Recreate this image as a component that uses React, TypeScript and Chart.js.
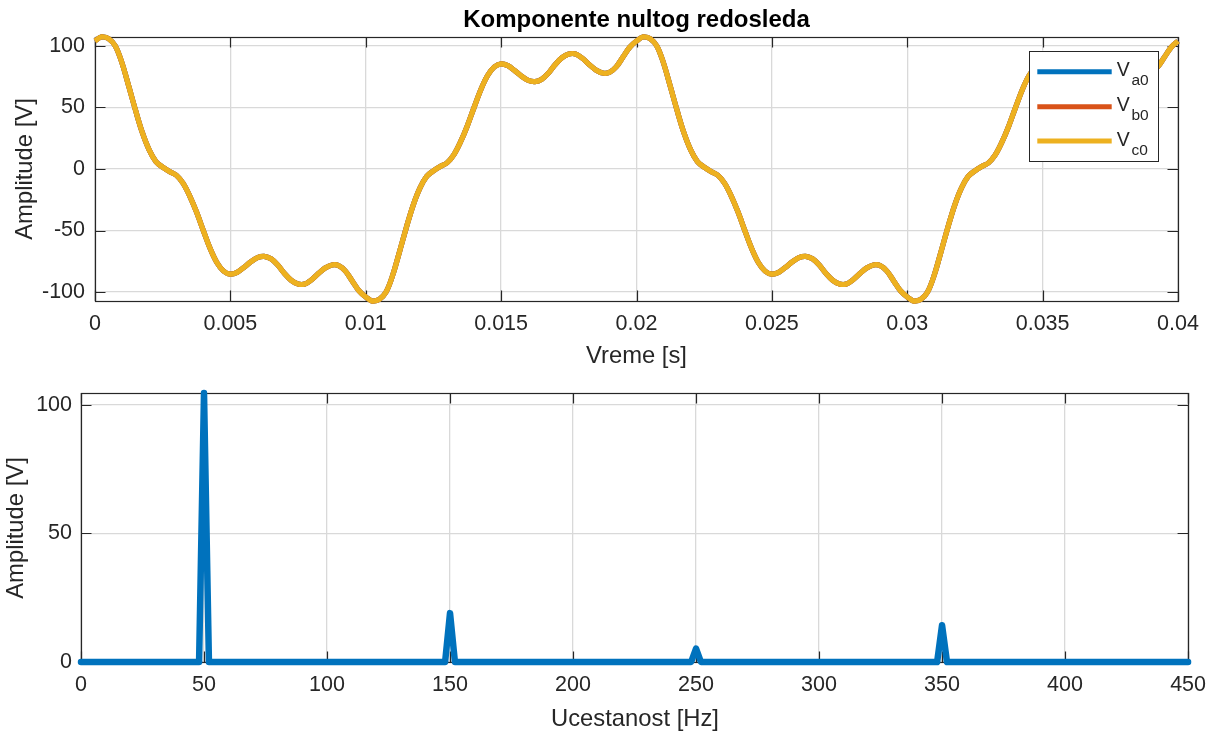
import React, { useEffect, useRef } from 'react';
import { Chart, registerables } from 'chart.js';

Chart.register(...registerables);

const FONT = '"Liberation Sans", Arial, Helvetica, sans-serif';
const INK = '#262626';
const GRID = '#d9d9d9';

// Zero-sequence voltage (V), one sample every 0.25 ms over 0 .. 40 ms
const sampleStepS = 0.00025;
const zeroSeqV = [
  104, 107.5, 106, 100, 86, 67, 47.5, 29.5, 15.5, 6, 1.5, -2, -5, -11.5, -22, -35, -50, -64.5, -76, -83,
  -85.5, -84, -80, -75.5, -72, -71, -73, -78, -85, -90.5, -93.5, -93.5, -90, -85, -80.5, -78, -78.5, -83, -91, -99, -104,
  -107.5, -106, -100, -86, -67, -47.5, -29.5, -15.5, -6, -1.5, 2, 5, 11.5, 22, 35, 50, 64.5, 76, 83,
  85.5, 84, 80, 75.5, 72, 71, 73, 78, 85, 90.5, 93.5, 93.5, 90, 85, 80.5, 78, 78.5, 83, 91, 99, 104,
  107.5, 106, 100, 86, 67, 47.5, 29.5, 15.5, 6, 1.5, -2, -5, -11.5, -22, -35, -50, -64.5, -76, -83,
  -85.5, -84, -80, -75.5, -72, -71, -73, -78, -85, -90.5, -93.5, -93.5, -90, -85, -80.5, -78, -78.5, -83, -91, -99, -104,
  -107.5, -106, -100, -86, -67, -47.5, -29.5, -15.5, -6, -1.5, 2, 5, 11.5, 22, 35, 50, 64.5, 76, 83,
  85.5, 84, 80, 75.5, 72, 71, 73, 78, 85, 90.5, 93.5, 93.5, 90, 85, 80.5, 78, 78.5, 83, 91, 99, 104,
];

const phaseSubscripts = ['a0', 'b0', 'c0'];
const phaseColors = ['#0072BD', '#D95319', '#EDB120'];

const timeTicks = [0, 0.005, 0.01, 0.015, 0.02, 0.025, 0.03, 0.035, 0.04];
const timeTickLabels = ['0', '0.005', '0.01', '0.015', '0.02', '0.025', '0.03', '0.035', '0.04'];
const voltTicks = [-100, -50, 0, 50, 100];
const voltTickLabels = ['-100', '-50', '0', '50', '100'];

// Amplitude spectrum of the zero-sequence voltage
const freqHz = [0, 48, 50, 52, 148, 150, 152, 248, 250, 252, 348, 350, 352, 450];
const ampV = [0, 0, 104.6, 0, 0, 19, 0, 0, 5.2, 0, 0, 14.3, 0, 0];
const freqTicks = [0, 50, 100, 150, 200, 250, 300, 350, 400, 450];
const freqTickLabels = ['0', '50', '100', '150', '200', '250', '300', '350', '400', '450'];
const ampTicks = [0, 50, 100];
const ampTickLabels = ['0', '50', '100'];

const TICK_FONT = { family: FONT, size: 21.5 };

function framePlugin(xTicks: number[], yTicks: number[], tickLen: number) {
  return {
    id: 'frame',
    beforeDatasetsDraw(chart: any) {
      const { ctx, chartArea: a, scales } = chart;
      ctx.save();
      ctx.strokeStyle = INK;
      ctx.lineWidth = 1.2;
      ctx.beginPath();
      for (const v of xTicks) {
        const px = Math.round(scales.x.getPixelForValue(v)) + 0.5;
        ctx.moveTo(px, a.bottom);
        ctx.lineTo(px, a.bottom - tickLen);
        ctx.moveTo(px, a.top);
        ctx.lineTo(px, a.top + tickLen);
      }
      for (const v of yTicks) {
        const py = Math.round(scales.y.getPixelForValue(v)) + 0.5;
        ctx.moveTo(a.left, py);
        ctx.lineTo(a.left + tickLen, py);
        ctx.moveTo(a.right, py);
        ctx.lineTo(a.right - tickLen, py);
      }
      ctx.stroke();
      ctx.strokeRect(a.left + 0.5, a.top + 0.5, a.right - a.left, a.bottom - a.top);
      ctx.restore();
    },
  };
}

function textPlugin(draw: (ctx: CanvasRenderingContext2D) => void) {
  return {
    id: 'texts',
    afterDraw(chart: any) {
      const ctx = chart.ctx as CanvasRenderingContext2D;
      ctx.save();
      draw(ctx);
      ctx.restore();
    },
  };
}

function rotatedLabel(ctx: CanvasRenderingContext2D, text: string, x: number, y: number, size: number) {
  ctx.save();
  ctx.translate(x, y);
  ctx.rotate(-Math.PI / 2);
  ctx.font = `${size}px ${FONT}`;
  ctx.fillStyle = INK;
  ctx.textAlign = 'center';
  ctx.textBaseline = 'alphabetic';
  ctx.fillText(text, 0, 0);
  ctx.restore();
}

const gridOpts = { color: GRID, lineWidth: 1.3, drawTicks: false };

function WaveformChart() {
  const ref = useRef<HTMLCanvasElement | null>(null);
  useEffect(() => {
    if (!ref.current) return;
    const points = zeroSeqV.map((v, i) => ({ x: i * sampleStepS, y: v }));
    // Vc0 first so it is painted on top of the identical Va0 / Vb0 traces
    const order = [2, 1, 0];
    const chart = new Chart(ref.current, {
      type: 'line',
      data: {
        datasets: order.map((k) => ({
          label: 'V' + phaseSubscripts[k],
          data: points,
          borderColor: phaseColors[k],
          backgroundColor: phaseColors[k],
          borderWidth: 5.2,
          pointRadius: 0,
          tension: 0.35,
          fill: false,
          clip: false as any,
          borderJoinStyle: 'round' as const,
        })),
      },
      options: {
        animation: false,
        responsive: false,
        events: [],
        layout: { padding: { top: 37, right: 38, left: 0, bottom: 0 } },
        plugins: { legend: { display: false }, tooltip: { enabled: false }, title: { display: false } },
        scales: {
          x: {
            type: 'linear',
            min: 0,
            max: 0.04,
            afterFit: (s: any) => { s.height = 67; },
            afterBuildTicks: (s: any) => { s.ticks = timeTicks.map((v) => ({ value: v })); },
            ticks: {
              callback: (v: any) => timeTickLabels[timeTicks.indexOf(Number(v))],
              font: TICK_FONT,
              color: INK,
              padding: 10,
              maxRotation: 0,
              autoSkip: false,
            },
            grid: gridOpts,
            border: { display: false },
          },
          y: {
            type: 'linear',
            min: -107.3,
            max: 107.3,
            afterFit: (s: any) => { s.width = 95; },
            afterBuildTicks: (s: any) => { s.ticks = voltTicks.map((v) => ({ value: v })); },
            ticks: {
              callback: (v: any) => voltTickLabels[voltTicks.indexOf(Number(v))],
              font: TICK_FONT,
              color: INK,
              padding: 10,
            },
            grid: gridOpts,
            border: { display: false },
          },
        },
      },
      plugins: [
        framePlugin(timeTicks, voltTicks, 10.5),
        textPlugin((ctx) => {
          ctx.fillStyle = '#000';
          ctx.font = `bold 24px ${FONT}`;
          ctx.textAlign = 'center';
          ctx.textBaseline = 'alphabetic';
          ctx.fillText('Komponente nultog redosleda', 636.5, 26.5);
          ctx.fillStyle = INK;
          ctx.font = `23.8px ${FONT}`;
          ctx.fillText('Vreme [s]', 636.5, 363.3);
          rotatedLabel(ctx, 'Amplitude [V]', 31.5, 169, 23.8);

          // legend
          const bx = 1029.5, by = 51.5, bw = 129, bh = 110;
          ctx.fillStyle = '#fff';
          ctx.fillRect(bx - 0.5, by - 1, bw + 1, bh + 1.5);
          ctx.strokeStyle = INK;
          ctx.lineWidth = 1;
          ctx.strokeRect(bx, by, bw, bh);
          const rows = [71.7, 106.7, 141];
          phaseSubscripts.forEach((sub, k) => {
            const y = rows[k];
            ctx.strokeStyle = phaseColors[k];
            ctx.lineWidth = 5;
            ctx.beginPath();
            ctx.moveTo(1037.3, y);
            ctx.lineTo(1111.7, y);
            ctx.stroke();
            ctx.fillStyle = INK;
            ctx.textAlign = 'left';
            ctx.font = `19.5px ${FONT}`;
            ctx.fillText('V', 1116.7, y + 4.5);
            ctx.font = `15.5px ${FONT}`;
            ctx.fillText(sub, 1131.5, y + 13.5);
          });
        }),
      ],
    } as any);
    return () => chart.destroy();
  }, []);
  return (
    <canvas
      ref={ref}
      width={1216}
      height={368}
      style={{ position: 'absolute', left: 0, top: 0, width: 1216, height: 368 }}
    />
  );
}

function SpectrumChart() {
  const ref = useRef<HTMLCanvasElement | null>(null);
  useEffect(() => {
    if (!ref.current) return;
    const points = freqHz.map((f, i) => ({ x: f, y: ampV[i] }));
    const chart = new Chart(ref.current, {
      type: 'line',
      data: {
        datasets: [
          {
            label: 'Spektar',
            data: points,
            borderColor: '#0072BD',
            backgroundColor: '#0072BD',
            borderWidth: 6.5,
            pointRadius: 0,
            tension: 0,
            fill: false,
            clip: false as any,
            borderJoinStyle: 'round' as const,
            borderCapStyle: 'round' as const,
          },
        ],
      },
      options: {
        animation: false,
        responsive: false,
        events: [],
        layout: { padding: { top: 25, right: 27, left: 0, bottom: 0 } },
        plugins: { legend: { display: false }, tooltip: { enabled: false }, title: { display: false } },
        scales: {
          x: {
            type: 'linear',
            min: 0,
            max: 450,
            afterFit: (s: any) => { s.height = 74; },
            afterBuildTicks: (s: any) => { s.ticks = freqTicks.map((v) => ({ value: v })); },
            ticks: {
              callback: (v: any) => freqTickLabels[freqTicks.indexOf(Number(v))],
              font: TICK_FONT,
              color: INK,
              padding: 10,
              maxRotation: 0,
              autoSkip: false,
            },
            grid: gridOpts,
            border: { display: false },
          },
          y: {
            type: 'linear',
            min: 0,
            max: 104.6,
            afterFit: (s: any) => { s.width = 81; },
            afterBuildTicks: (s: any) => { s.ticks = ampTicks.map((v) => ({ value: v })); },
            ticks: {
              callback: (v: any) => ampTickLabels[ampTicks.indexOf(Number(v))],
              font: TICK_FONT,
              color: INK,
              padding: 9,
            },
            grid: gridOpts,
            border: { display: false },
          },
        },
      },
      plugins: [
        framePlugin(freqTicks, ampTicks, 10.5),
        textPlugin((ctx) => {
          ctx.fillStyle = INK;
          ctx.font = `23.8px ${FONT}`;
          ctx.textAlign = 'center';
          ctx.textBaseline = 'alphabetic';
          ctx.fillText('Ucestanost [Hz]', 635, 358);
          rotatedLabel(ctx, 'Amplitude [V]', 22.7, 160, 23.8);
        }),
      ],
    } as any);
    return () => chart.destroy();
  }, []);
  return (
    <canvas
      ref={ref}
      width={1216}
      height={368}
      style={{ position: 'absolute', left: 0, top: 368, width: 1216, height: 368 }}
    />
  );
}

export default function App() {
  return (
    <div style={{ position: 'absolute', left: 0, top: 0, width: 1216, height: 736, background: '#fff' }}>
      <WaveformChart />
      <SpectrumChart />
    </div>
  );
}
